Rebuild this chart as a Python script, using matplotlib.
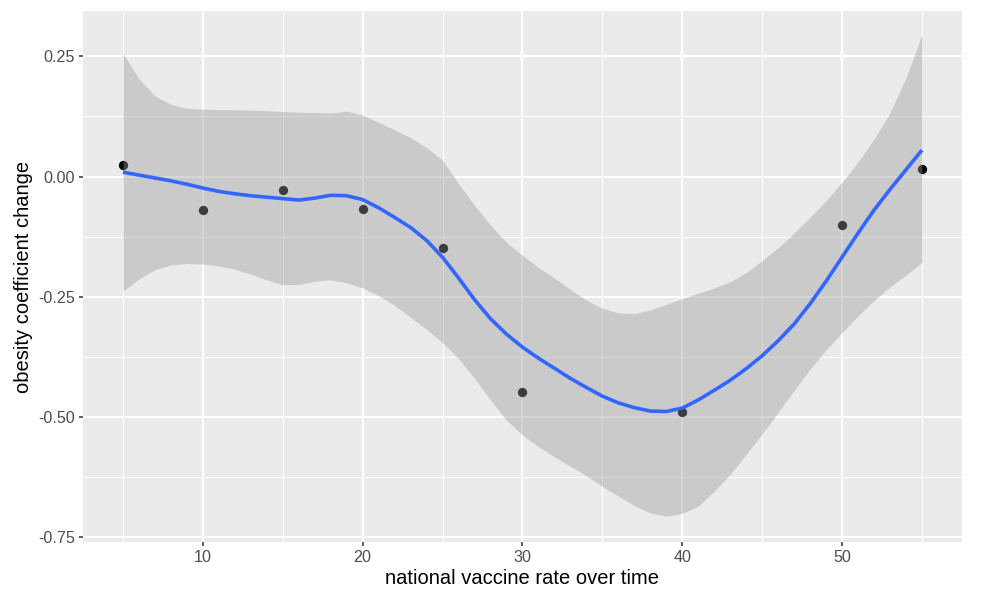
import matplotlib
matplotlib.use("Agg")
import matplotlib.pyplot as plt
from matplotlib.ticker import MultipleLocator

# observed points
vacc = [5, 10, 15, 20, 25, 30, 40, 50, 55]
obesity = [0.023, -0.069, -0.028, -0.067, -0.149, -0.449, -0.490, -0.100, 0.015]

# loess fit (x = 5..55), with its confidence band
fit_x = list(range(5, 56))
fit_y = [0.009, 0.003, -0.003, -0.009, -0.016, -0.024, -0.031, -0.036, -0.040, -0.043,
         -0.046, -0.049, -0.045, -0.039, -0.040, -0.048, -0.065, -0.085, -0.106, -0.133,
         -0.168, -0.211, -0.256, -0.296, -0.328, -0.355, -0.378, -0.399, -0.420, -0.439,
         -0.457, -0.471, -0.481, -0.488, -0.489, -0.482, -0.465, -0.445, -0.424, -0.400,
         -0.373, -0.342, -0.307, -0.265, -0.218, -0.168, -0.118, -0.070, -0.027, 0.014,
         0.055]
fit_hi = [0.257, 0.203, 0.168, 0.150, 0.142, 0.140, 0.139, 0.139, 0.138, 0.137,
          0.135, 0.134, 0.133, 0.132, 0.136, 0.128, 0.113, 0.097, 0.081, 0.060,
          0.034, -0.015, -0.060, -0.101, -0.137, -0.164, -0.189, -0.211, -0.235, -0.257,
          -0.274, -0.284, -0.285, -0.278, -0.266, -0.254, -0.243, -0.232, -0.219, -0.200,
          -0.175, -0.148, -0.118, -0.085, -0.050, -0.012, 0.030, 0.078, 0.132, 0.205,
          0.295]
fit_lo = [-0.239, -0.213, -0.194, -0.184, -0.181, -0.182, -0.186, -0.193, -0.203, -0.215,
          -0.225, -0.225, -0.218, -0.215, -0.221, -0.232, -0.248, -0.268, -0.293, -0.318,
          -0.346, -0.379, -0.420, -0.465, -0.507, -0.538, -0.562, -0.583, -0.603, -0.623,
          -0.645, -0.665, -0.685, -0.700, -0.707, -0.701, -0.686, -0.655, -0.620, -0.578,
          -0.536, -0.491, -0.445, -0.401, -0.361, -0.325, -0.290, -0.258, -0.230, -0.205,
          -0.179]

plt.rcParams["font.family"] = ["Liberation Sans", "DejaVu Sans"]

fig = plt.figure(figsize=(9.82, 5.92), dpi=100)
ax = fig.add_axes([0.0845, 0.0845, 0.895, 0.897])
ax.set_facecolor("#EBEBEB")

# points go under the ribbon, like ggplot draws them
ax.scatter(vacc, obesity, s=45, color="black", zorder=2, linewidths=0)
ax.fill_between(fit_x, fit_lo, fit_hi, color="#999999", alpha=0.4, linewidth=0, zorder=3)
ax.plot(fit_x, fit_y, color="#3366FF", linewidth=2.6, zorder=4,
        solid_capstyle="butt", solid_joinstyle="round")

ax.set_xlim(2.5, 57.5)
ax.set_ylim(-0.7605, 0.3445)
ax.xaxis.set_major_locator(MultipleLocator(10))
ax.xaxis.set_minor_locator(MultipleLocator(5))
ax.yaxis.set_minor_locator(MultipleLocator(0.125))
ax.set_yticks([0.25, 0.0, -0.25, -0.5, -0.75])
ax.set_yticklabels(["0.25", "0.00", "-0.25", "-0.50", "-0.75"])

ax.grid(which="major", color="white", linewidth=1.4, zorder=0)
ax.grid(which="minor", color="white", linewidth=0.7, zorder=0)
ax.set_axisbelow(True)
for s in ax.spines.values():
    s.set_visible(False)

ax.tick_params(which="major", length=3.2, width=1.1, color="#333333",
               labelcolor="#4D4D4D", labelsize=11.6, pad=2.5)
ax.tick_params(which="minor", length=0)

ax.set_xlabel("national vaccine rate over time", fontsize=14.5, color="black", labelpad=3)
ax.set_ylabel("obesity coefficient change", fontsize=14.5, color="black", labelpad=4)

fig.savefig("out.png", dpi=100)
